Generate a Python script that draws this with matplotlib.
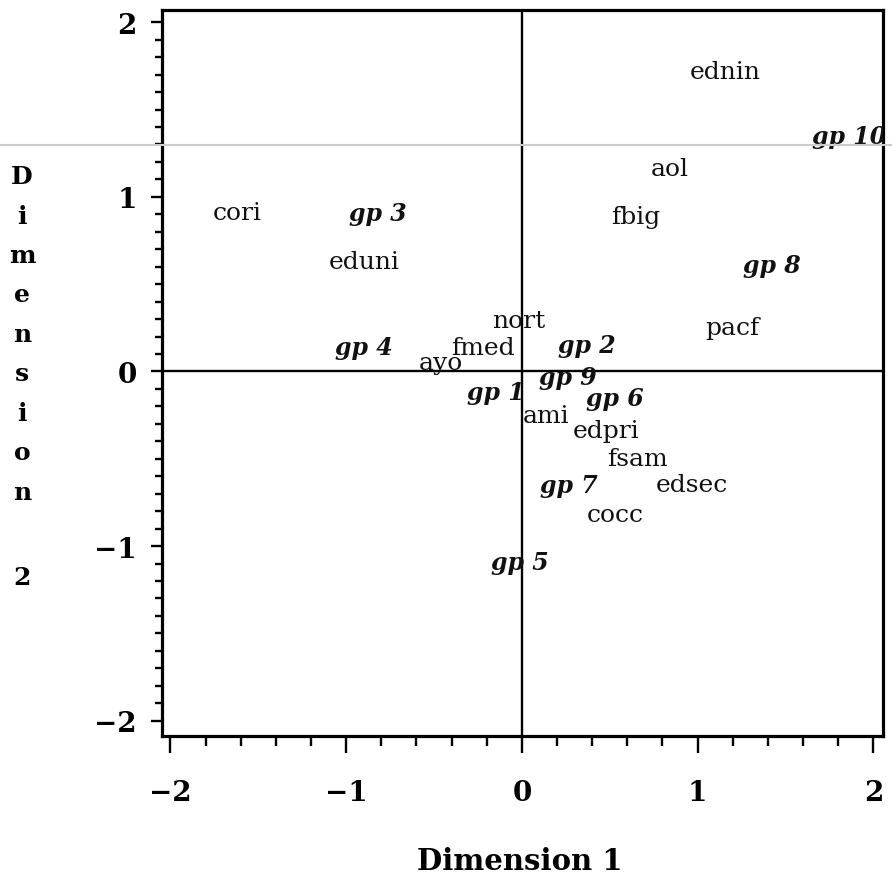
import matplotlib
matplotlib.use("Agg")
import matplotlib.pyplot as plt
from matplotlib.ticker import MultipleLocator
from matplotlib.lines import Line2D

# Attribute-level labels (dimension 1, dimension 2)
attr_labels = ["ednin", "aol", "fbig", "pacf", "cori", "eduni", "nort", "fmed",
               "ayo", "ami", "edpri", "fsam", "edsec", "cocc"]
attr_dim1 = [1.16, 0.84, 0.65, 1.20, -1.62, -0.90, -0.02, -0.22,
             -0.46, 0.14, 0.48, 0.66, 0.97, 0.53]
attr_dim2 = [1.72, 1.16, 0.89, 0.25, 0.91, 0.63, 0.29, 0.14,
             0.05, -0.25, -0.34, -0.50, -0.65, -0.82]

# Group labels (dimension 1, dimension 2)
group_labels = ["gp 1", "gp 2", "gp 3", "gp 4", "gp 5", "gp 6", "gp 7",
                "gp 8", "gp 9", "gp 10"]
group_dim1 = [-0.15, 0.37, -0.82, -0.90, -0.01, 0.53, 0.27, 1.42, 0.26, 1.86]
group_dim2 = [-0.12, 0.15, 0.91, 0.14, -1.09, -0.15, -0.65, 0.61, -0.03, 1.35]

x_ticks = [-2, -1, 0, 1, 2]
y_ticks = [-2, -1, 0, 1, 2]

W, H = 892, 887
fig = plt.figure(figsize=(W / 100, H / 100), dpi=100)
left, right, top, bottom = 161.7, 883, 10.5, 736.7
ax = fig.add_axes([left / W, 1 - bottom / H, (right - left) / W, (bottom - top) / H])

ax.set_xlim(-2.05, 2.055)
ax.set_ylim(-2.086, 2.073)

ax.axhline(0, color="black", lw=1.7, zorder=1)
ax.axvline(0, color="black", lw=1.7, zorder=1)

for lab, x, y in zip(attr_labels, attr_dim1, attr_dim2):
    ax.text(x, y, lab, ha="center", va="center", fontsize=18,
            family="DejaVu Serif", color="#111111", zorder=3)

for lab, x, y in zip(group_labels, group_dim1, group_dim2):
    ax.text(x, y, lab, ha="center", va="center", fontsize=17,
            family="DejaVu Serif", fontweight="bold", fontstyle="italic",
            color="#111111", zorder=3, clip_on=True)

for s in ax.spines.values():
    s.set_linewidth(2.3)

ax.set_xticks(x_ticks)
ax.set_yticks(y_ticks)
ax.xaxis.set_minor_locator(MultipleLocator(0.2))
ax.yaxis.set_minor_locator(MultipleLocator(0.1))
ax.tick_params(axis="x", which="major", direction="out", length=12, width=1.7, pad=19)
ax.tick_params(axis="x", which="minor", direction="out", length=7, width=1.7)
ax.tick_params(axis="y", which="major", direction="out", length=8, width=1.7, pad=10)
ax.tick_params(axis="y", which="minor", direction="out", length=5, width=1.7)
for t in ax.get_xticklabels() + ax.get_yticklabels():
    t.set_family("DejaVu Serif")
    t.set_fontweight("bold")
    t.set_fontsize(20)

# X axis label
fig.text(520 / W, 1 - 862 / H, "Dimension 1", ha="center", va="center",
         fontsize=21, family="DejaVu Serif", fontweight="bold")

# Y axis label, stacked letters
ylab_letters = ["D", "i", "m", "e", "n", "s", "i", "o", "n"]
for i, ch in enumerate(ylab_letters):
    fig.text(22 / W, 1 - (177 + i * 39.5) / H, ch, ha="center", va="center",
             fontsize=18, family="DejaVu Serif", fontweight="bold")
fig.text(22 / W, 1 - 578 / H, "2", ha="center", va="center",
         fontsize=18, family="DejaVu Serif", fontweight="bold")

# faint horizontal scan line present in the reference
fig.add_artist(Line2D([0, 1], [1 - 145.5 / H, 1 - 145.5 / H], color="#cccccc",
                      lw=1.5, transform=fig.transFigure, zorder=0.5))

fig.savefig("out.png", dpi=100, facecolor="white")
